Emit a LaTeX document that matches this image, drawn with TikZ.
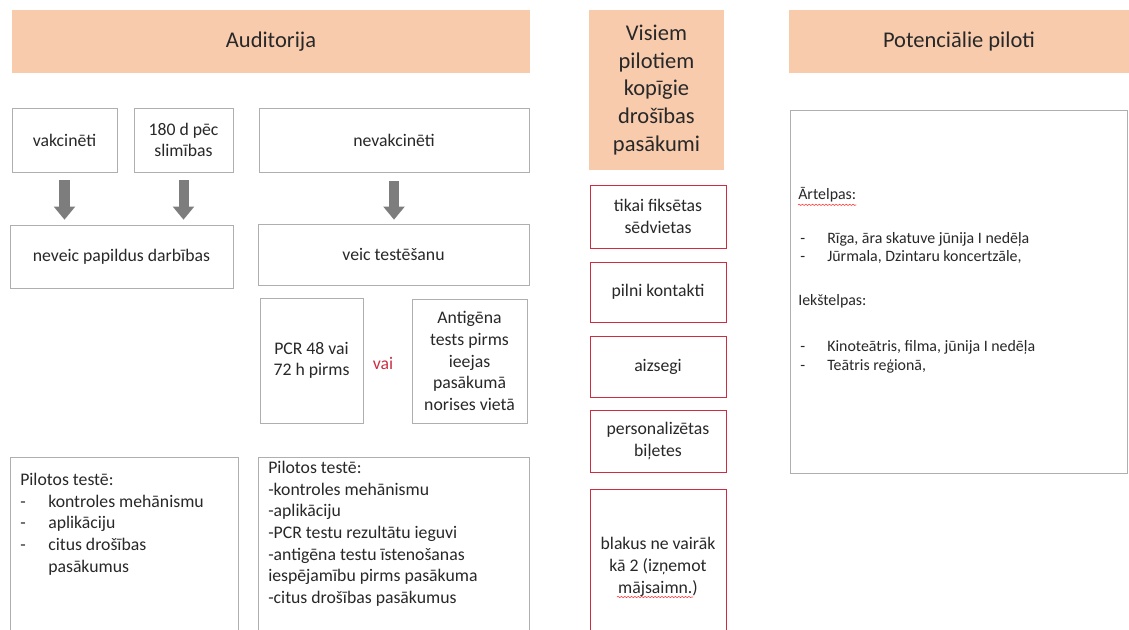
\documentclass[tikz,border=0pt]{standalone}
\usepackage{fontspec}
\setmainfont{Carlito}
\usetikzlibrary{arrows.meta,calc,decorations.pathmorphing}
\definecolor{peach}{RGB}{248,203,173}
\definecolor{boxgray}{RGB}{175,175,175}
\definecolor{boxred}{RGB}{205,45,65}
\definecolor{arrowgray}{RGB}{125,125,125}
\definecolor{txt}{RGB}{40,40,40}
\tikzstyle{header}=[fill=peach,draw=none,text=txt,font=\fontsize{16}{19.6}\selectfont,align=center,inner sep=0pt]
\tikzstyle{plainbox}=[draw=boxgray,fill=white,text=txt,font=\fontsize{12.6}{15.4}\selectfont,align=center,inner sep=0pt]
\tikzstyle{redbox}=[plainbox,draw=boxred]
\tikzstyle{listtext}=[text=txt,font=\fontsize{12.6}{15.4}\selectfont,align=left,inner sep=0pt]
\tikzstyle{smalltext}=[text=txt,font=\fontsize{11.3}{13.5}\selectfont,inner sep=0pt,anchor=base west]
\tikzstyle{blockarrow}=[draw=arrowgray,line width=2.5mm,-{Triangle[length=3.3mm,width=5.2mm]}]
\tikzstyle{spell}=[draw=red!80,decorate,decoration={snake,amplitude=0.45pt,segment length=2.4pt}]

\begin{document}
\begin{tikzpicture}[x=0.025cm,y=-0.025cm]

\path[use as bounding box,fill=white] (0,0) rectangle (1129,630);

% Headers
\node[header,minimum width=129.5mm,minimum height=15.75mm] (aud) at (271,41.5) {Auditorija};
\node[header,minimum width=33.75mm,minimum height=40mm] (kop) at (656.5,90) {Visiem\\pilotiem\\kopīgie\\drošības\\pasākumi};
\node[header,minimum width=85mm,minimum height=15.75mm] (pot) at (959,41.5) {Potenciālie piloti};

%Auditorija
\foreach \pos/\name/\w/\label in {{(64.5,140)/vak/26.25mm/vakcinēti}, {(183.5,140)/slim/24.75mm/{180 d pēc\\slimības}}, {(394,140)/nevak/67.5mm/nevakcinēti}}
    \node[plainbox,minimum width=\w,minimum height=16mm] (\name) at \pos {\label};

\node[plainbox,minimum width=55.75mm,minimum height=15.75mm] (neveic) at (121.5,256.5) {neveic papildus darbības};
\node[plainbox,minimum width=67.75mm,minimum height=15.25mm] (veic) at (393.5,254.5) {veic testēšanu};

\foreach \source in {vak,slim}
    \draw[blockarrow,shorten <=2mm,shorten >=1.25mm] (\source.south) -- (\source.south |- neveic.north);
\draw[blockarrow,shorten <=2.2mm,shorten >=1mm] (nevak.south) -- (nevak.south |- veic.north);

% Tests
\node[plainbox,minimum width=25.75mm,minimum height=31.25mm] (pcr) at (311.5,360.5) {PCR 48 vai\\72 h pirms};
\node[plainbox,minimum width=28.75mm,minimum height=31mm] (anti) at (469.5,361) {Antigēna\\tests pirms\\ieejas\\pasākumā\\norises vietā};
\node[listtext,text=boxred] (vai) at (383,363) {vai};

%Pilotos
\node[plainbox,minimum width=57mm,minimum height=45mm] (pilL) at (124,547) {};
\node[plainbox,minimum width=67.75mm,minimum height=45mm] (pilR) at (393.5,547) {};
\node[listtext,anchor=north west] (pilLtext) at (20,473) {Pilotos testē:\\\makebox[7mm][l]{-}kontroles mehānismu\\\makebox[7mm][l]{-}aplikāciju\\\makebox[7mm][l]{-}citus drošības\\\hspace*{7mm}pasākumus};
\node[listtext,anchor=north west] (pilRtext) at (268,461) {Pilotos testē:\\-kontroles mehānismu\\-aplikāciju\\-PCR testu rezultātu ieguvi\\-antigēna testu īstenošanas\\iespējamību pirms pasākuma\\-citus drošības pasākumus};

%Kopigie
\foreach \pos/\name/\h/\label in {{(658,216.5)/fix/15.75mm/{tikai fiksētas\\sēdvietas}}, {(658,292)/kont/15mm/pilni kontakti}, {(658,366.5)/aiz/15.25mm/aizsegi}, {(658,441)/bil/15.5mm/{personalizētas\\biļetes}}, {(658,567)/blakus/39mm/{blakus ne vairāk\\kā 2 (izņemot\\mājsaimn.)}}}
    \node[redbox,minimum width=34mm,minimum height=\h] (\name) at \pos {\label};
\draw[spell] ($(blakus.center)+(-41,30)$) -- ($(blakus.center)+(35,30)$);

%Potencialie
\node[plainbox,minimum width=84.25mm,minimum height=90.75mm] (potbox) at (958.5,291.5) {};
\node[smalltext] (art) at (798,199) {Ārtelpas:};
\draw[spell] ($(art.south west)+(0,3)$) -- ($(art.south east)+(0,3)$);
\node[smalltext] (iek) at (798,305) {Iekštelpas:};
\foreach \y/\name/\label in {243/riga/{Rīga, āra skatuve jūnija I nedēļa}, 261/jur/{Jūrmala, Dzintaru koncertzāle,}, 351/kino/{Kinoteātris, filma, jūnija I nedēļa}, 370/teat/{Teātris reģionā,}}
{
    \node[smalltext] (d\name) at (800,\y) {-};
    \node[smalltext] (\name) at (827,\y) {\label};
}

\end{tikzpicture}
\end{document}
